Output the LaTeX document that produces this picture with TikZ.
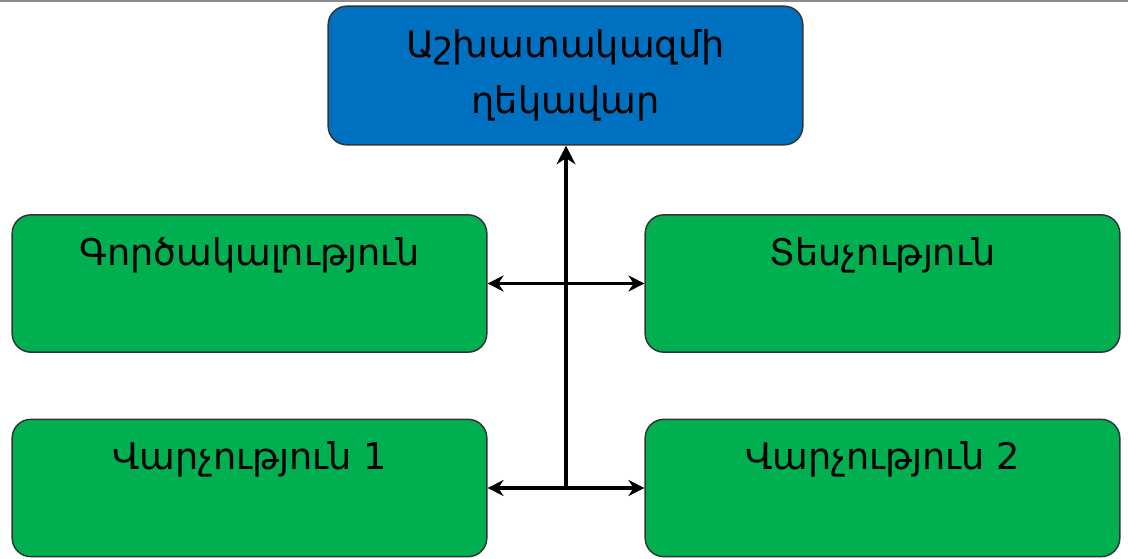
\documentclass[tikz,border=0pt]{standalone}
\usepackage{fontspec}
\setmainfont{DejaVu Sans}
\usepackage{tikz}
\usetikzlibrary{arrows.meta, calc, positioning}
\definecolor{leadblue}{HTML}{0070C0}
\definecolor{unitgreen}{HTML}{00B050}

\begin{document}
\begin{tikzpicture}[
        x=0.75pt,
        y=-0.75pt,
        unitbox/.style={
            draw=black!80,
            line width=1.1pt,
            rounded corners=14pt,
            fill=unitgreen,
            minimum width=356pt,
            minimum height=103pt,
            align=center,
            font=\fontsize{27.5}{42}\selectfont
        },
        leadbox/.style={
            unitbox,
            fill=leadblue,
            minimum height=104pt
        },
        linkarrow/.style={
            draw=black,
            line width=2.6pt,
            {Stealth[length=12pt,width=12pt]}-{Stealth[length=12pt,width=12pt]}
        },
        trunkarrow/.style={
            draw=black,
            line width=3.6pt,
            -{Stealth[length=14pt,width=14pt]}
        }
    ]

        % rammer
        \useasboundingbox (0,0) rectangle (1128,559);
        \draw[black!45, line width=1pt] (0,1) -- (1128,1);

        % ghekavar
        \node[leadbox] (lead) at (565.5,75.5)
            {Աշխատակազմի\\ղեկավար};

        % bazhanmunkner
        \node[unitbox] (gorc) at (249.5,283.5)
            {Գործակալություն\\[-6pt]\strut};
        \node[unitbox] (tesch) at (882.5,283.5)
            {Տեսչություն\\[-6pt]\strut};
        \node[unitbox] (varch1) at (249.5,488)
            {Վարչություն 1\\[-6pt]\strut};
        \node[unitbox] (varch2) at (882.5,488)
            {Վարչություն 2\\[-6pt]\strut};

        % kaper
        \coordinate (trunk) at ($(varch1.east)!0.5!(varch2.west)$);
        \draw[linkarrow] (gorc.east) -- (tesch.west);
        \draw[linkarrow] (varch1.east) -- (varch2.west);
        \draw[trunkarrow] (trunk) -- (trunk |- lead.south);

    \end{tikzpicture}
\end{document}
